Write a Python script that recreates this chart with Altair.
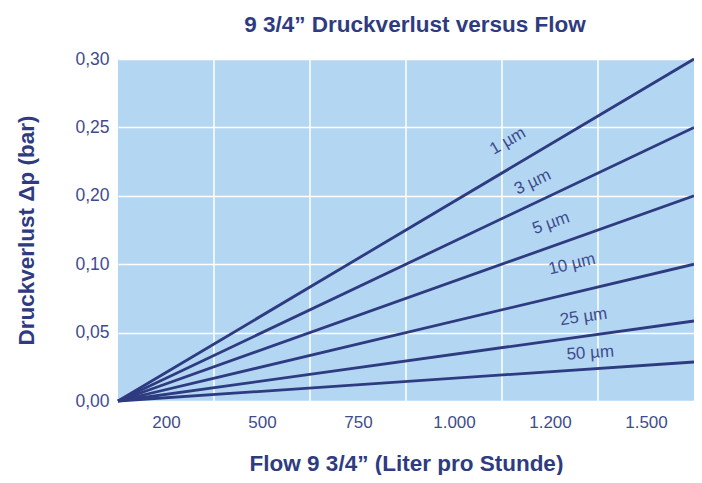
import json
import altair as alt
import pandas as pd

# --- data (axis positions are index units of the printed grid) ---
series = ["1 µm", "3 µm", "5 µm", "10 µm", "25 µm", "50 µm"]
start_x = 0
start_y = 0
end_x = 6
end_y = [5.0, 4.0, 3.0, 2.0, 1.17, 0.57]

label_x = [4.06, 4.32, 4.51, 4.73, 4.85, 4.92]
label_y = [3.80, 3.20, 2.60, 2.00, 1.23, 0.70]
label_angle = [330, 335, 340.5, 346.5, 352, 356]

y_tick_values = [0, 1, 2, 3, 4, 5]
y_tick_labels = ["0,00", "0,05", "0,10", "0,20", "0,25", "0,30"]
x_tick_values = [0.5, 1.5, 2.5, 3.5, 4.5, 5.5]
x_tick_labels = ["200", "500", "750", "1.000", "1.200", "1.500"]
x_grid = [1, 2, 3, 4, 5]

NAVY = "#2f3b80"
TEXT = "#3f4c8c"
BG = "#b3d7f3"
FONT = "Liberation Sans"

rows = []
for s, ey in zip(series, end_y):
    rows.append({"series": s, "x": start_x, "y": start_y})
    rows.append({"series": s, "x": end_x, "y": ey})
lines_df = pd.DataFrame(rows)
labels_df = pd.DataFrame({"label": series, "x": label_x, "y": label_y, "angle": label_angle})
grid_df = pd.DataFrame({"gx": x_grid})

xscale = alt.Scale(domain=[0, 6], nice=False, zero=False)
yscale = alt.Scale(domain=[0, 5], nice=False, zero=False)

x_axis = alt.Axis(
    values=x_tick_values,
    labelExpr=json.dumps(x_tick_labels) + "[floor(datum.value)]",
    grid=False, ticks=False, domain=False,
    labelFont=FONT, labelFontSize=17, labelColor=TEXT, labelPadding=21,
    labelBaseline="middle",
    title="Flow 9 3/4” (Liter pro Stunde)",
    titleFont=FONT, titleFontSize=22.5, titleFontWeight="bold", titleColor=NAVY,
    titleY=69, titleBaseline="alphabetic",
)
y_axis = alt.Axis(
    values=y_tick_values,
    labelExpr=json.dumps(y_tick_labels) + "[datum.value]",
    grid=True, gridColor="white", gridWidth=1.5, gridOpacity=1,
    ticks=False, domain=False,
    labelFont=FONT, labelFontSize=17.5, labelColor=TEXT, labelPadding=9,
    title="Druckverlust Δp (bar)",
    titleFont=FONT, titleFontSize=22.5, titleFontWeight="bold", titleColor=NAVY,
    titleX=-92, titleBaseline="middle", titleAngle=270,
)

grid = alt.Chart(grid_df).mark_rule(color="white", strokeWidth=1.5).encode(
    x=alt.X("gx:Q", scale=xscale, axis=x_axis),
)

lines = alt.Chart(lines_df).mark_line(color=NAVY, strokeWidth=2.8).encode(
    x=alt.X("x:Q", scale=xscale, axis=x_axis),
    y=alt.Y("y:Q", scale=yscale, axis=y_axis),
    detail="series:N",
)

texts = alt.Chart(labels_df).mark_text(
    font=FONT, fontSize=17, color=TEXT, align="center", baseline="middle"
).encode(
    x=alt.X("x:Q", scale=xscale, axis=x_axis),
    y=alt.Y("y:Q", scale=yscale, axis=y_axis),
    text="label:N",
    angle=alt.Angle("angle:Q", scale=None),
)

chart = alt.layer(grid, lines, texts).properties(
    width=576,
    height=342,
    padding={"left": 110, "top": 51, "right": 0, "bottom": 74},
    autosize=alt.AutoSizeParams(type="none"),
    title=alt.Title(
        "9 3/4” Druckverlust versus Flow",
        font=FONT, fontSize=22.5, fontWeight="bold", color=NAVY,
        anchor="middle", offset=14, dx=9,
    ),
).configure_view(fill=BG, stroke=None)

chart.save("out.html", embed_options={"renderer": "svg", "actions": False})
